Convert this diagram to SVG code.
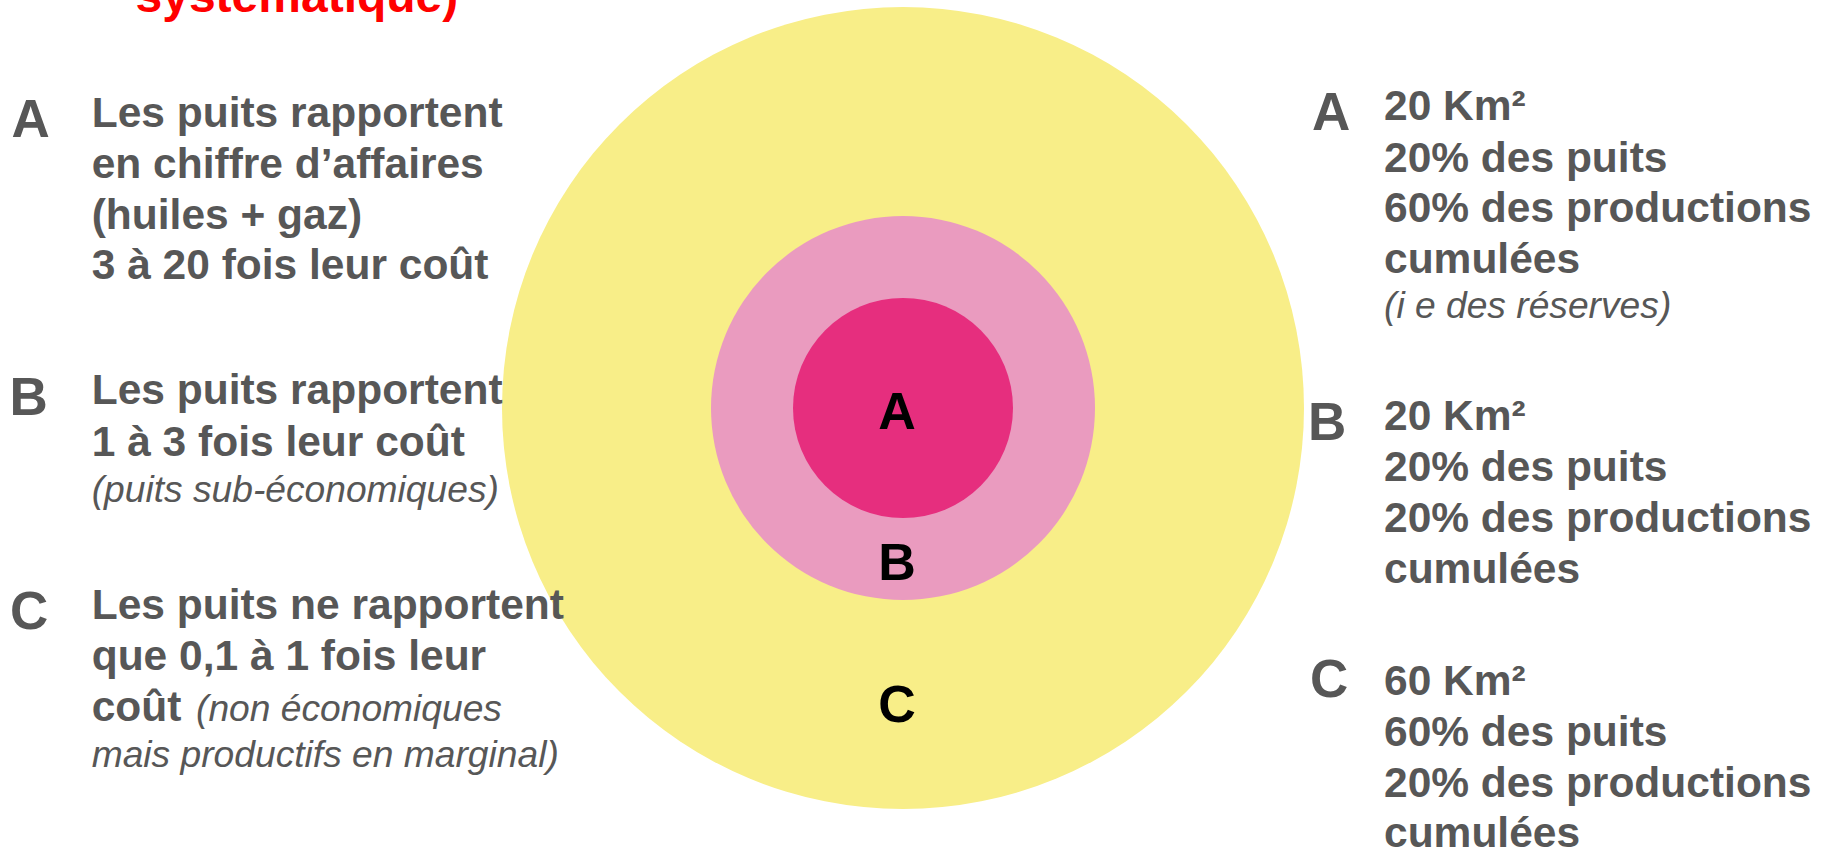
<svg xmlns="http://www.w3.org/2000/svg" width="1828" height="851" viewBox="0 0 1828 851">
<style>
  text { font-family: "Liberation Sans", Arial, sans-serif; }
  .title { font-size: 48px; font-weight: bold; fill: #FF0000; }
  .key { font-size: 53px; font-weight: bold; fill: #575757; }
  .b { font-size: 42.5px; font-weight: bold; fill: #575757; }
  .i { font-size: 37.2px; font-style: italic; font-weight: normal; fill: #575757; }
  .ring { font-size: 52px; font-weight: bold; fill: #000000; text-anchor: middle; }
</style>
<rect x="0" y="0" width="1828" height="851" fill="#FFFFFF"/>

<text class="title" x="135.5" y="12">systématique)</text>

<g id="zone-C">
  <circle cx="903" cy="408" r="401" fill="#F8EE88"/>
  <text class="ring" x="897" y="722">C</text>
</g>
<g id="zone-B">
  <circle cx="903" cy="408" r="192" fill="#EA9BBF"/>
  <text class="ring" x="897" y="580">B</text>
</g>
<g id="zone-A">
  <circle cx="903" cy="408" r="110" fill="#E62E7E"/>
  <text class="ring" x="897" y="429">A</text>
</g>

<g id="connectors"></g>

<g id="left-A">
  <text class="key" x="11.5" y="136.5">A</text>
  <text class="b" x="91.7" y="127.3">Les puits rapportent</text>
  <text class="b" x="91.7" y="178">en chiffre d’affaires</text>
  <text class="b" x="91.7" y="228.5">(huiles + gaz)</text>
  <text class="b" x="91.7" y="279.3">3 à 20 fois leur coût</text>
</g>
<g id="left-B">
  <text class="key" x="9.5" y="415">B</text>
  <text class="b" x="91.7" y="404">Les puits rapportent</text>
  <text class="b" x="91.7" y="455.5">1 à 3 fois leur coût</text>
  <text class="i" x="91.7" y="501.5">(puits sub-économiques)</text>
</g>
<g id="left-C">
  <text class="key" x="10" y="629">C</text>
  <text class="b" x="91.7" y="619.3">Les puits ne rapportent</text>
  <text class="b" x="91.7" y="670">que 0,1 à 1 fois leur</text>
  <text x="91.7" y="720.7"><tspan class="b">coût</tspan><tspan class="i" x="196">(non économiques</tspan></text>
  <text class="i" x="91.7" y="766.7">mais productifs en marginal)</text>
</g>

<g id="right-A">
  <text class="key" x="1312" y="130">A</text>
  <text class="b" x="1384" y="120">20 Km²</text>
  <text class="b" x="1384" y="171.5">20% des puits</text>
  <text class="b" x="1384" y="222">60% des productions</text>
  <text class="b" x="1384" y="272.7">cumulées</text>
  <text class="i" x="1384" y="318.3">(i e des réserves)</text>
</g>
<g id="right-B">
  <text class="key" x="1308" y="440">B</text>
  <text class="b" x="1384" y="429.5">20 Km²</text>
  <text class="b" x="1384" y="480.5">20% des puits</text>
  <text class="b" x="1384" y="531.5">20% des productions</text>
  <text class="b" x="1384" y="582.5">cumulées</text>
</g>
<g id="right-C">
  <text class="key" x="1310" y="697">C</text>
  <text class="b" x="1384" y="695">60 Km²</text>
  <text class="b" x="1384" y="746">60% des puits</text>
  <text class="b" x="1384" y="796.7">20% des productions</text>
  <text class="b" x="1384" y="847.3">cumulées</text>
</g>
</svg>
